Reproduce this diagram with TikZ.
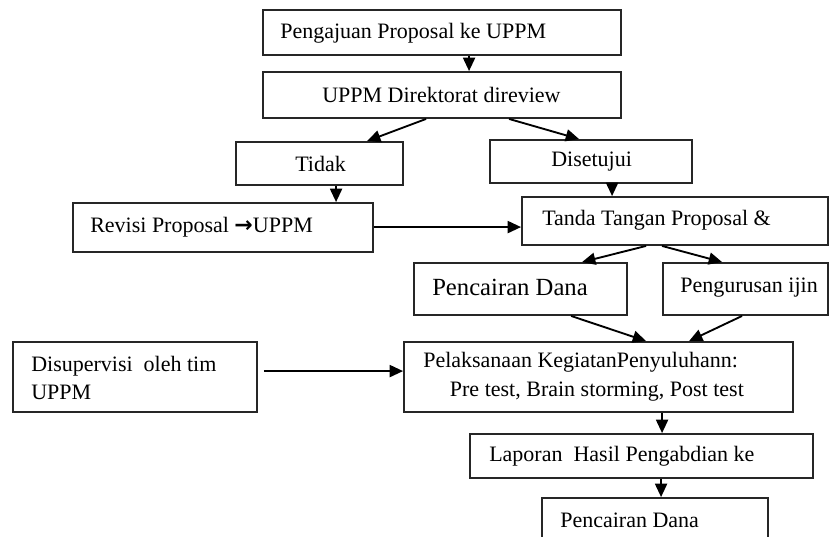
\documentclass[tikz,border=0pt]{standalone}
\usepackage{fontspec}
\setmainfont{Liberation Serif}
\newfontfamily\dvsans{DejaVu Sans}
\usetikzlibrary{fit,calc,arrows.meta}
\tikzset{
  box/.style={draw=black!85, line width=1.4pt, inner sep=0pt, fill=none},
  lbl/.style={anchor=west, inner sep=0pt, font=\fontsize{16.5}{21.5}\selectfont, align=left},
  biglbl/.style={anchor=west, inner sep=0pt, font=\fontsize{18.5}{22}\selectfont},
  arr/.style={line width=1.4pt, -{Triangle[length=10pt,width=9pt]}}
}
\begin{document}
\begin{tikzpicture}[x=0.75pt,y=-0.75pt]
\useasboundingbox (0,0) rectangle (830,536);
\clip (0,0) rectangle (830,536);
\fill[white] (0,0) rectangle (830,536);
% boxes
\node[box, fit={(263,10) (621,55)}] (b1) {};
\node[box, fit={(263,72) (621,118)}] (b2) {};
\node[box, fit={(236,142) (403,185)}] (tidak) {};
\node[box, fit={(73,203) (373,252)}] (revisi) {};
\node[box, fit={(490,140) (692,183)}] (setuju) {};
\node[box, fit={(522,197) (828,245)}] (tanda) {};
\node[box, fit={(414,263) (627,315)}] (dana1) {};
\node[box, fit={(663,263) (828,315)}] (ijin) {};
\node[box, fit={(13,342) (257,412)}] (sup) {};
\node[box, fit={(404,342) (793,412)}] (laks) {};
\node[box, fit={(470,434) (813,478)}] (lapor) {};
\node[box, fit={(542,498) (768,548)}] (dana2) {};
% texts
\node[lbl] (t1) at (280,33) {Pengajuan Proposal ke UPPM};
\node[lbl] (t2) at (322,95) {UPPM Direktorat direview};
\node[lbl] (t3) at (295,164) {Tidak};
\node[lbl] (t4) at (90,227) {Revisi Proposal {\dvsans\bfseries →}UPPM};
\node[lbl] (t5) at (551,162) {Disetujui};
\node[lbl] (t6) at (542,220) {Tanda Tangan Proposal \&};
\node[biglbl] (t7) at (432,287) {Pencairan Dana};
\node[lbl] (t8) at (680,288) {Pengurusan ijin};
\node[lbl] (t9) at (31,378) {Disupervisi\ \ oleh tim\\UPPM};
\node[lbl] (t10) at (423,377) {Pelaksanaan KegiatanPenyuluhann:\\\hspace*{20pt}Pre test, Brain storming, Post test};
\node[lbl] (t11) at (489,456) {Laporan\ \ Hasil Pengabdian ke};
\node[lbl] (t12) at (560,520) {Pencairan Dana};
% arrows
\draw[arr] ($(b1.south west)+(207,0)$) -- ($(b2.north west)+(207,0)$);
\draw[arr] ($(b2.south west)+(164,0)$) -- ($(tidak.north west)+(132,0)$);
\draw[arr] ($(b2.south west)+(247,0)$) -- ($(setuju.north west)+(90,0)$);
\draw[arr] ($(tidak.south west)+(101,0)$) -- ($(revisi.north west)+(264,0)$);
\draw[arr] ($(setuju.south west)+(123,0)$) -- ($(tanda.north west)+(91,0)$);
\draw[arr] ($(revisi.north east)+(0,25)$) -- ($(tanda.north west)+(0,31)$);
\draw[arr] ($(tanda.south west)+(125,0)$) -- ($(dana1.north west)+(169,0)$);
\draw[arr] ($(tanda.south west)+(141,0)$) -- ($(ijin.north west)+(60,0)$);
\draw[arr] ($(dana1.south west)+(158,0)$) -- ($(laks.north west)+(243,0)$);
\draw[arr] ($(ijin.south west)+(80,0)$) -- ($(laks.north west)+(286,0)$);
\draw[arr] ($(sup.north east)+(6,30)$) -- ($(laks.north west)+(0,30)$);
\draw[arr] ($(laks.south west)+(259,0)$) -- ($(lapor.north west)+(193,0)$);
\draw[arr] ($(lapor.south west)+(192,0)$) -- ($(dana2.north west)+(120,0)$);
\end{tikzpicture}
\end{document}
